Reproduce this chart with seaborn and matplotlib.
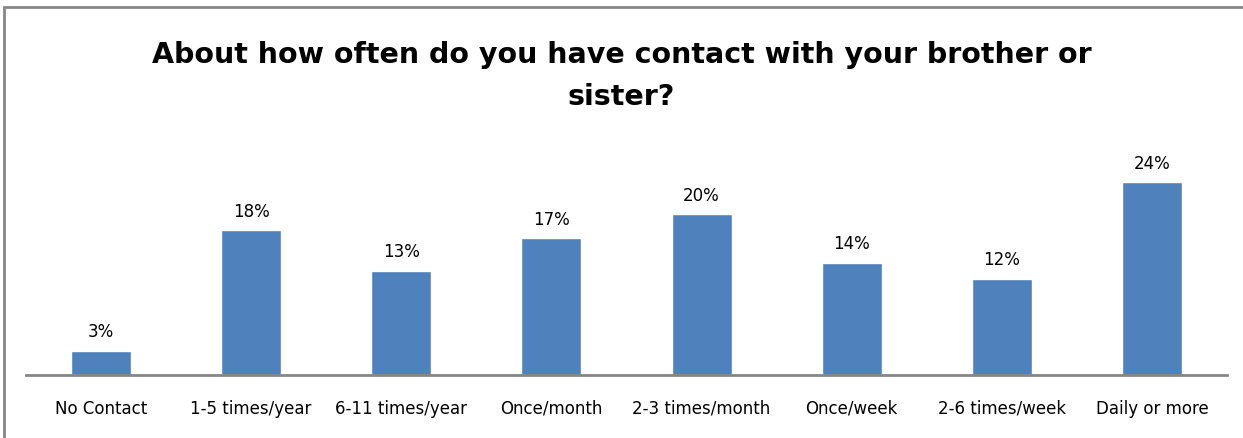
import matplotlib
matplotlib.use("Agg")
import matplotlib.pyplot as plt
from matplotlib.patches import Rectangle
import seaborn as sns
import pandas as pd

categories = ["No Contact", "1-5 times/year", "6-11 times/year", "Once/month",
              "2-3 times/month", "Once/week", "2-6 times/week", "Daily or more"]
values = [3, 18, 13, 17, 20, 14, 12, 24]

df = pd.DataFrame({"category": categories, "pct": values})

sns.set_theme(style="white")
plt.rcParams["font.family"] = ["DejaVu Sans"]

fig = plt.figure(figsize=(12.43, 4.39), dpi=100)
ax = fig.add_axes([26 / 1243, 1 - 376 / 439, 1201 / 1243, 241 / 439])

sns.barplot(data=df, x="category", y="pct", color="#4F81BD", saturation=1,
            width=0.4, ax=ax)

# percentage labels above each bar
for i, v in enumerate(values):
    ax.text(i, v + 1.3, f"{v}%", ha="center", va="bottom", fontsize=12, color="black")

ax.set_xlim(-0.5, 7.5)
ax.set_ylim(0, 30)
ax.set_xlabel("")
ax.set_ylabel("")
ax.set_yticks([])
ax.tick_params(axis="x", labelsize=12, pad=17, length=0, colors="black")
for s in ["top", "right", "left"]:
    ax.spines[s].set_visible(False)
ax.spines["bottom"].set_color("#868686")
ax.spines["bottom"].set_linewidth(2)

fig.text(0.5, 1 - 76 / 439, "About how often do you have contact with your brother or\nsister?",
         ha="center", va="center", fontsize=20.5, fontweight="bold", linespacing=1.6,
         color="black", family="DejaVu Sans")

# chart-area border (cut off at right and bottom like the source)
fig.patches.append(Rectangle((4 / 1243, -0.1), 1.2, 1 - 8 / 439 + 0.1, transform=fig.transFigure,
                             fill=False, edgecolor="#868686", linewidth=2))

fig.savefig("out.png", dpi=100)
